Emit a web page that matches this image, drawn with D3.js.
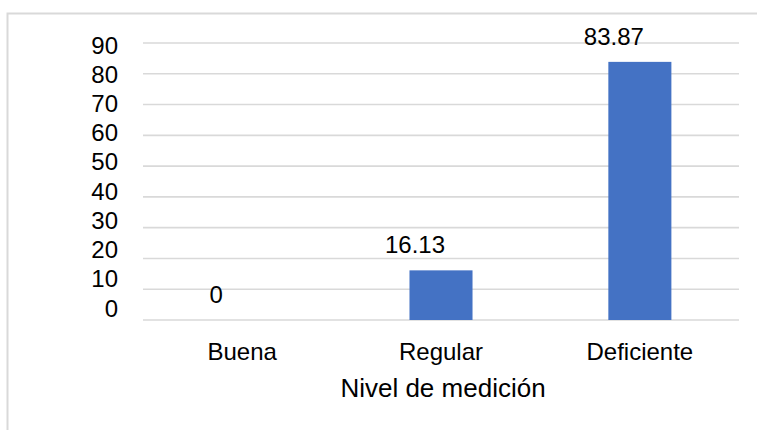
<!DOCTYPE html>
<html>
<head>
<meta charset="utf-8">
<script src="https://cdn.jsdelivr.net/npm/d3@7"></script>
<style>
  body { margin: 0; background: #fff; }
  text { font-family: "Liberation Sans", Arial, sans-serif; fill: #000; }
</style>
</head>
<body>
<svg id="chart" width="757" height="430"></svg>
<script>
var categories = ["Buena", "Regular", "Deficiente"];
var values = [0, 16.13, 83.87];
var valueLabels = ["0", "16.13", "83.87"];
var yTicks = [0, 10, 20, 30, 40, 50, 60, 70, 80, 90];
var xTitle = "Nivel de medición";

var svg = d3.select("#chart");

// outer frame, open to the right and bottom like the cropped original
svg.append("rect")
    .attr("x", 7.5)
    .attr("y", 13.5)
    .attr("width", 800)
    .attr("height", 500)
    .attr("fill", "none")
    .attr("stroke", "#d9d9d9")
    .attr("stroke-width", 2);

var x = d3.scaleBand()
        .domain(categories)
        .range([143, 739])
        .paddingInner(0.683)
        .paddingOuter(0.34);

var y = d3.scaleLinear()
        .domain([0, 90])
        .range([320, 43]);

// tick labels sit a bit above their gridlines in the original
var yLabel = d3.scaleLinear()
        .domain([0, 90])
        .range([316.5, 53.5]);

svg.append("g")
    .attr("class", "grid")
    .selectAll("line")
    .data(yTicks)
    .enter().append("line")
    .attr("x1", 143)
    .attr("x2", 739)
    .attr("y1", function(d) { return y(d); })
    .attr("y2", function(d) { return y(d); })
    .attr("stroke", "#d9d9d9")
    .attr("stroke-width", 1.6);

svg.append("g")
    .attr("class", "ylabels")
    .selectAll("text")
    .data(yTicks)
    .enter().append("text")
    .attr("x", 118)
    .attr("y", function(d) { return yLabel(d); })
    .attr("text-anchor", "end")
    .attr("font-size", 24)
    .text(function(d) { return d; });

svg.append("g")
    .attr("class", "bars")
    .selectAll("rect")
    .data(values)
    .enter().append("rect")
    .attr("x", function(d, i) { return x(categories[i]); })
    .attr("width", x.bandwidth())
    .attr("y", function(d) { return y(d); })
    .attr("height", function(d) { return y(0) - y(d); })
    .attr("fill", "#4472c4");

svg.append("g")
    .attr("class", "labels")
    .selectAll("text")
    .data(values)
    .enter().append("text")
    .attr("x", function(d, i) { return x(categories[i]) + x.bandwidth() / 2 - 26; })
    .attr("y", function(d) { return y(d) - 17; })
    .attr("text-anchor", "middle")
    .attr("font-size", 24)
    .text(function(d, i) { return valueLabels[i]; });

svg.append("g")
    .attr("class", "xlabels")
    .selectAll("text")
    .data(categories)
    .enter().append("text")
    .attr("x", function(d) { return x(d) + x.bandwidth() / 2; })
    .attr("y", 360)
    .attr("text-anchor", "middle")
    .attr("font-size", 24)
    .text(function(d) { return d; });

svg.append("text")
    .attr("x", (x.range()[0] + x.range()[1]) / 2 + 2)
    .attr("y", 397)
    .attr("text-anchor", "middle")
    .attr("font-size", 26)
    .text(xTitle);
</script>
</body>
</html>
